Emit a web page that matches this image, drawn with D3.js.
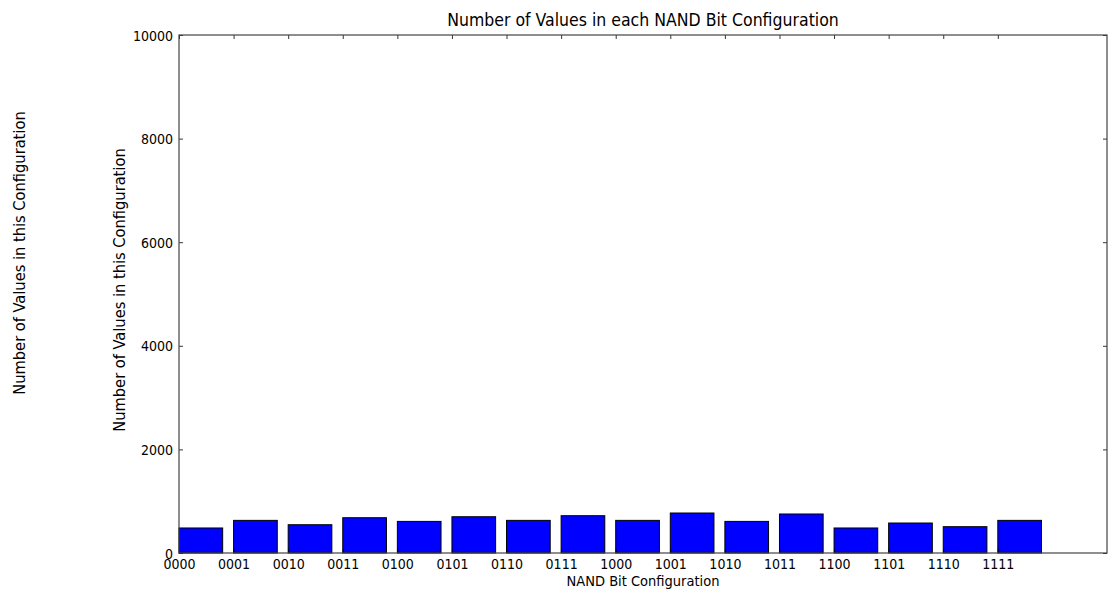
<!DOCTYPE html>
<html>
<head>
<meta charset="utf-8">
<script src="https://cdn.jsdelivr.net/npm/d3@7"></script>
<style>
  html, body { margin: 0; padding: 0; background: #fff; }
  svg { display: block; }
  text { font-family: "DejaVu Sans Condensed", "DejaVu Sans", sans-serif; fill: #000; }
</style>
</head>
<body>
<svg id="chart" width="1114" height="595"></svg>
<script>
// Bit configurations along the x axis
const configs = ["0000","0001","0010","0011","0100","0101","0110","0111",
                 "1000","1001","1010","1011","1100","1101","1110","1111"];
// Count of values for each configuration
const counts = [483, 630, 546, 681, 610, 700, 630, 720,
                630, 772, 610, 753, 483, 579, 508, 630];
const yTicks = [0, 2000, 4000, 6000, 8000, 10000];

const FONT = '"DejaVu Sans Condensed", "DejaVu Sans", sans-serif';
const svg = d3.select("#chart");
const m = { left: 179, right: 1107, top: 35, bottom: 553 };

const x = d3.scaleLinear().domain([0, 17]).range([m.left, m.right]);
const y = d3.scaleLinear().domain([0, 10000]).range([m.bottom, m.top]);
const barW = 0.8;

// Bars: left edge at integer index, width 0.8
svg.append("g").selectAll("rect").data(counts).join("rect")
  .attr("x", (d, i) => x(i))
  .attr("y", d => y(d))
  .attr("width", x(barW) - x(0))
  .attr("height", d => y(0) - y(d))
  .attr("fill", "#0000ff")
  .attr("stroke", "#000")
  .attr("stroke-width", 1);

// Axes with inward ticks on all sides
const tickLen = 4;
const xIdx = d3.range(configs.length);
const xBottom = d3.axisBottom(x).tickValues(xIdx).tickFormat(i => configs[i])
  .tickSizeInner(-tickLen).tickSizeOuter(0).tickPadding(6);
const xTop = d3.axisTop(x).tickValues(xIdx).tickFormat("")
  .tickSizeInner(-tickLen).tickSizeOuter(0);
const yLeft = d3.axisLeft(y).tickValues(yTicks).tickFormat(d3.format("d"))
  .tickSizeInner(-tickLen).tickSizeOuter(0).tickPadding(6);
const yRight = d3.axisRight(y).tickValues(yTicks).tickFormat("")
  .tickSizeInner(-tickLen).tickSizeOuter(0);

function style(g) {
  g.select(".domain").remove();
  g.selectAll("line").attr("stroke", "#000").attr("stroke-width", 0.8);
  g.selectAll("text").attr("font-size", 14).attr("font-family", FONT).attr("fill", "#000");
}
const gx = svg.append("g").attr("transform", `translate(0,${m.bottom})`).call(xBottom).call(style);
gx.selectAll("text").attr("dy", null).attr("y", 16);
svg.append("g").attr("transform", `translate(0,${m.top})`).call(xTop).call(style);
const gy = svg.append("g").attr("transform", `translate(${m.left},0)`).call(yLeft).call(style);
gy.selectAll("text").attr("dy", "0.36em");
svg.append("g").attr("transform", `translate(${m.right},0)`).call(yRight).call(style);

// Frame
svg.append("rect")
  .attr("x", m.left).attr("y", m.top)
  .attr("width", m.right - m.left).attr("height", m.bottom - m.top)
  .attr("fill", "none").attr("stroke", "#444").attr("stroke-width", 1.2);

// Title and axis labels
svg.append("text")
  .attr("x", (m.left + m.right) / 2).attr("y", 26)
  .attr("text-anchor", "middle").attr("font-size", 17.5)
  .text("Number of Values in each NAND Bit Configuration");

svg.append("text")
  .attr("x", (m.left + m.right) / 2).attr("y", 586)
  .attr("text-anchor", "middle").attr("font-size", 14.5)
  .text("NAND Bit Configuration");

svg.append("text")
  .attr("transform", `translate(125,290) rotate(-90)`)
  .attr("text-anchor", "middle").attr("font-size", 16.3)
  .text("Number of Values in this Configuration");

svg.append("text")
  .attr("transform", `translate(25,253) rotate(-90)`)
  .attr("text-anchor", "middle").attr("font-size", 16.3)
  .text("Number of Values in this Configuration");
</script>
</body>
</html>
